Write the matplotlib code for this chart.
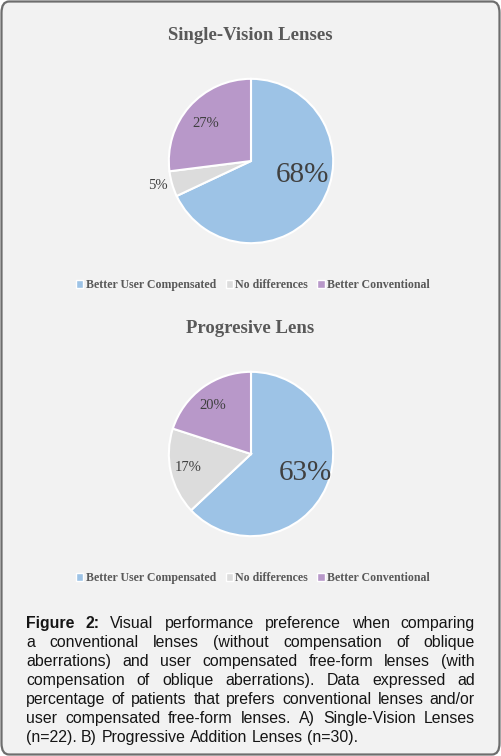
import matplotlib
matplotlib.use("Agg")
import matplotlib.pyplot as plt
from matplotlib.patches import FancyBboxPatch, Patch
import numpy as np

# data
categories = ["Better User Compensated", "No differences", "Better Conventional"]
colors = ["#9dc3e6", "#dcdcdc", "#b898c9"]
single_vals = [68, 5, 27]
prog_vals = [63, 17, 20]
titles = ["Single-Vision Lenses", "Progresive Lens"]

caption_lines = [
    "Visual performance preference when comparing",
    "a conventional lenses (without compensation of oblique",
    "aberrations) and user compensated free-form lenses (with",
    "compensation of oblique aberrations). Data expressed ad",
    "percentage of patients that prefers conventional lenses and/or",
    "user compensated free-form lenses. A) Single-Vision Lenses",
    "(n=22). B) Progressive Addition Lenses (n=30).",
]

W, H = 501, 756
fig = plt.figure(figsize=(W / 100, H / 100), dpi=100)
fig.patch.set_facecolor("white")

# rounded panel
panel = FancyBboxPatch((1.5 / W, 1.5 / H), (W - 3) / W, (H - 3) / H,
                       boxstyle="round,pad=0,rounding_size=0.015",
                       transform=fig.transFigure, facecolor="#f2f2f2",
                       edgecolor="#6e6e6e", linewidth=1.6, zorder=-5)
fig.patches.append(panel)

serif = ["Liberation Serif"]


def draw_pie(vals, title, cx, cy, r, title_y, legend_y, label_pos):
    ax = fig.add_axes([(cx - r) / W, 1 - (cy + r) / H, 2 * r / W, 2 * r / H])
    ax.pie(vals, colors=colors, startangle=90, counterclock=False,
           wedgeprops=dict(edgecolor="white", linewidth=1.5))
    ax.set_xlim(-1.01, 1.01)
    ax.set_ylim(-1.01, 1.01)
    ax.set_aspect("auto")
    ax.axis("off")
    for v, (dx, dy, fs) in zip(vals, label_pos):
        ax.text(dx, dy, f"{v}%", ha="center", va="center", fontsize=fs,
                color="#404040", family=serif)
    fig.text(0.5, 1 - title_y / H, title, ha="center", va="center",
             fontsize=13.5, weight="bold", color="#595959", family=serif)
    handles = [Patch(facecolor=c, edgecolor="white") for c in colors]
    fig.legend(handles, categories, loc="center", ncol=3,
               bbox_to_anchor=(253 / W, 1 - legend_y / H),
               frameon=False, prop=dict(family=serif, size=8.6, weight="bold"),
               labelcolor="#595959", handlelength=0.6, handleheight=0.6,
               handletextpad=0.2, columnspacing=0.8)


draw_pie(single_vals, titles[0], 251, 161, 83, 36, 285,
         [(0.63, -0.17, 21), (-1.13, -0.30, 10.5), (-0.55, 0.46, 10.5)])
draw_pie(prog_vals, titles[1], 251, 454, 83, 329, 578,
         [(0.66, -0.23, 21), (-0.76, -0.16, 10.5), (-0.46, 0.59, 10.5)])

# justified caption
fig.canvas.draw()
renderer = fig.canvas.get_renderer()
left, right = 26, 475
top = 622
step = 19
cap_font = dict(family="Liberation Sans", fontsize=11.4, color="#151515")


def word_width(s, bold=False):
    t = fig.text(0, 0, s, weight="bold" if bold else "normal", **cap_font)
    w = t.get_window_extent(renderer).width
    t.remove()
    return w


for i, line in enumerate(caption_lines):
    words = [(w, False) for w in line.split(" ")]
    if i == 0:
        words = [("Figure", True), ("2:", True)] + words
    widths = [word_width(w, b) for w, b in words]
    last = i == len(caption_lines) - 1
    if last:
        gap = word_width("a b") - word_width("ab")
    else:
        gap = (right - left - sum(widths)) / (len(words) - 1)
    x = left
    y = 1 - top / H - i * step / H
    for (w, b), wd in zip(words, widths):
        fig.text(x / W, y, w, ha="left", va="center_baseline",
                 weight="bold" if b else "normal", **cap_font)
        x += wd + gap

fig.savefig("out.png", dpi=100, facecolor="white")
